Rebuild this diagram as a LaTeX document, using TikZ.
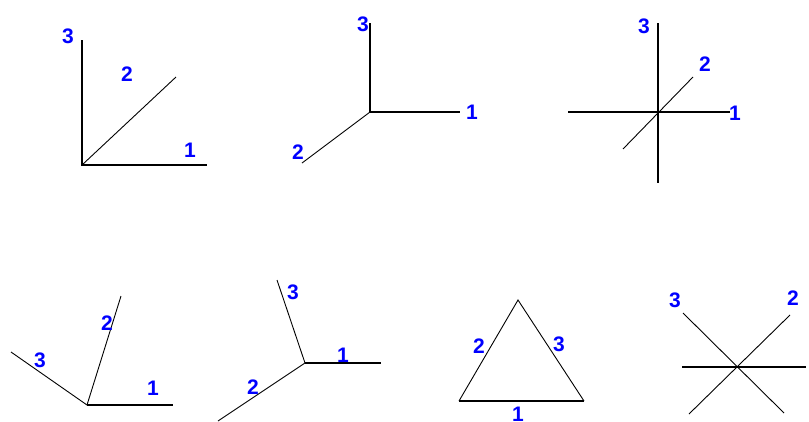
\documentclass[tikz,border=0pt]{standalone}
\usepackage{fontspec}
\setmainfont{Liberation Sans}
\usetikzlibrary{positioning}
\tikzset{
    axis/.style={draw=black, line width=1.4pt},
    slant/.style={draw=black, line width=0.9pt},
    num/.style={text=blue, font=\fontsize{21}{21}\selectfont\bfseries, inner sep=0pt}
}

\begin{document}
\begin{tikzpicture}[x=1pt, y=-1pt]
    \useasboundingbox (0,0) rectangle (809,421);

    % top row
    \coordinate (o1) at (82,165);
    \coordinate (a1x) at (207,165);
    \coordinate (a1y) at (176,77);
    \coordinate (a1z) at (82,40);
    \draw [axis] (a1z) -- (o1) -- (a1x);
    \draw [slant] (o1) -- (a1y);
    \node (n1x) [num] at (190,150) {1};
    \node (n1y) [num] at (127,74) {2};
    \node (n1z) [num] at (68,36) {3};

    \coordinate (o2) at (370,112);
    \coordinate (a2x) at (460,112);
    \coordinate (a2y) at (302,163);
    \coordinate (a2z) at (370,23);
    \draw [axis] (a2z) -- (o2) -- (a2x);
    \draw [slant] (o2) -- (a2y);
    \node (n2x) [num] at (472,112) {1};
    \node (n2y) [num] at (298,152) {2};
    \node (n2z) [num] at (363,24) {3};

    \coordinate (o3) at (658,112);
    \coordinate (a3l) at (568,112);
    \coordinate (a3x) at (730,112);
    \coordinate (a3b) at (658,183);
    \coordinate (a3z) at (658,23);
    \coordinate (a3d) at (623,149);
    \coordinate (a3y) at (693,77);
    \draw [axis] (a3l) -- (a3x);
    \draw [axis] (a3z) -- (a3b);
    \draw [slant] (a3d) -- (a3y);
    \node (n3x) [num] at (735,113) {1};
    \node (n3y) [num] at (705,64) {2};
    \node (n3z) [num] at (644,26) {3};

    % bottom row
    \coordinate (o4) at (87,405);
    \coordinate (a4x) at (173,405);
    \coordinate (a4y) at (121,296);
    \coordinate (a4z) at (11,352);
    \draw [axis] (o4) -- (a4x);
    \draw [slant] (o4) -- (a4y);
    \draw [slant] (o4) -- (a4z);
    \node (n4x) [num] at (153,388) {1};
    \node (n4y) [num] at (107,323) {2};
    \node (n4z) [num] at (40,360) {3};

    \coordinate (o5) at (305,363);
    \coordinate (a5x) at (381,363);
    \coordinate (a5y) at (218,421);
    \coordinate (a5z) at (277,280);
    \draw [axis] (o5) -- (a5x);
    \draw [slant] (o5) -- (a5y);
    \draw [slant] (o5) -- (a5z);
    \node (n5x) [num] at (343,355) {1};
    \node (n5y) [num] at (253,387) {2};
    \node (n5z) [num] at (293,292) {3};

    \coordinate (t6) at (518,300);
    \coordinate (l6) at (459,401);
    \coordinate (r6) at (584,401);
    \draw [axis] (l6) -- (r6);
    \draw [slant] (l6) -- (t6) -- (r6);
    \node (n6x) [num] at (518,414) {1};
    \node (n6y) [num] at (479,346) {2};
    \node (n6z) [num] at (559,344) {3};

    \coordinate (o7) at (737,367);
    \coordinate (a7l) at (682,367);
    \coordinate (a7x) at (806,367);
    \coordinate (a7z) at (683,313);
    \coordinate (a7zb) at (784,413);
    \coordinate (a7y) at (790,315);
    \coordinate (a7yb) at (689,414);
    \draw [axis] (a7l) -- (a7x);
    \draw [slant] (a7z) -- (a7zb);
    \draw [slant] (a7y) -- (a7yb);
    \node (n7x) [num] at (815,367) {1};
    \node (n7y) [num] at (793,298) {2};
    \node (n7z) [num] at (675,300) {3};
\end{tikzpicture}
\end{document}
